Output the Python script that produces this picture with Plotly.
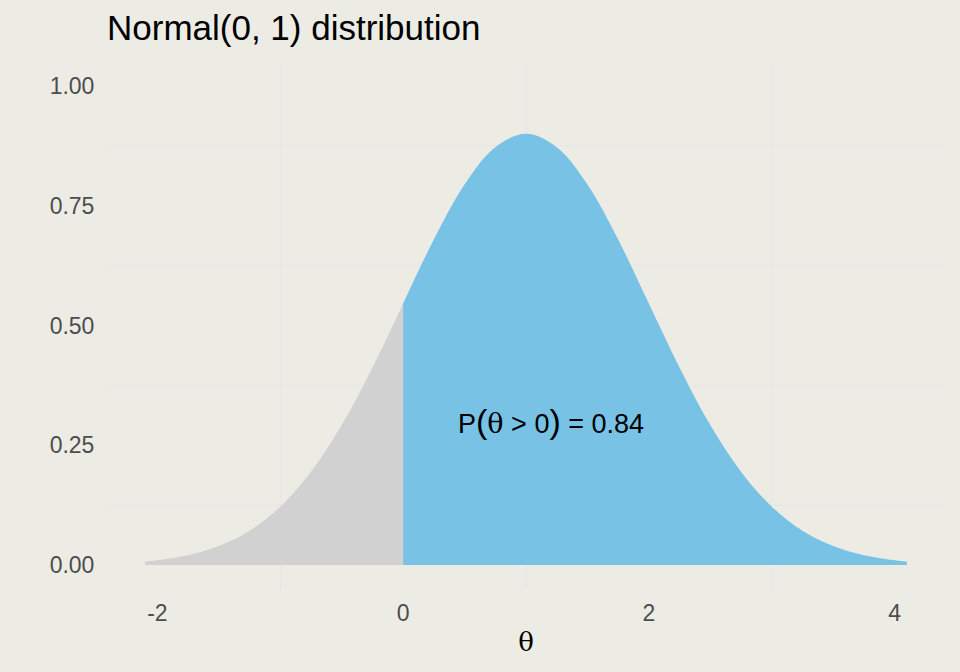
import plotly.graph_objects as go

# density curve (theta, height)
theta_left = [-2.1, -2.0, -1.75, -1.5, -1.25, -1.0, -0.75, -0.5, -0.25, 0.0]
dens_left = [0.0074, 0.0100, 0.0205, 0.0395, 0.0716, 0.1218, 0.1947, 0.2922, 0.4120, 0.5459]

theta_right = [0.0, 0.25, 0.5, 0.75, 1.0, 1.25, 1.5, 1.75, 2.0, 2.25, 2.5, 2.75,
               3.0, 3.25, 3.5, 3.75, 4.0, 4.1]
dens_right = [0.5459, 0.6794, 0.7942, 0.8723, 0.9000, 0.8723, 0.7942, 0.6794, 0.5459,
              0.4120, 0.2922, 0.1947, 0.1218, 0.0716, 0.0395, 0.0205, 0.0100, 0.0074]

x_ticks = [-2, 0, 2, 4]
x_labels = ["-2", "0", "2", "4"]
y_ticks = [0.0, 0.25, 0.5, 0.75, 1.0]
y_labels = ["0.00", "0.25", "0.50", "0.75", "1.00"]

bg = "#ECECE5"
grid = "#E4E4EA"

fig = go.Figure()
fig.add_trace(go.Scatter(
    x=theta_left, y=dens_left, mode="lines", line=dict(width=0, shape="spline"),
    fill="tozeroy", fillcolor="#D1D1D1", hoverinfo="skip",
))
fig.add_trace(go.Scatter(
    x=theta_right, y=dens_right, mode="lines", line=dict(width=0, shape="spline"),
    fill="tozeroy", fillcolor="#78C2E6", hoverinfo="skip",
))

# plotmath-like label: tall parens, serif theta
fig.add_annotation(
    x=1.2, y=0.3, showarrow=False,
    text=("P<span style='font-size:34px'>(</span>"
          "<span style='font-family:DejaVu Serif, serif'>θ</span> > 0"
          "<span style='font-size:34px'>)</span> = 0.84"),
    font=dict(family="Liberation Sans, Arial", size=27, color="black"),
)

fig.update_layout(
    width=960, height=672,
    paper_bgcolor=bg, plot_bgcolor=bg,
    showlegend=False,
    margin=dict(l=107, r=15, t=62, b=83),
    font=dict(family="Liberation Sans, Arial", color="#4D4D4D"),
    title=dict(
        text="Normal(0, 1) distribution",
        x=0, xref="paper", xanchor="left",
        y=0.958, yref="container", yanchor="middle",
        font=dict(size=35, color="black"),
    ),
    xaxis=dict(
        range=[-2.41, 4.41], tickvals=x_ticks, ticktext=x_labels,
        showgrid=False, zeroline=False,
        ticks="outside", ticklen=3, tickcolor=bg, tickfont=dict(size=23),
        minor=dict(tickvals=[-1, 1, 3], showgrid=True, gridcolor=grid, gridwidth=1),
        title=dict(text="θ", font=dict(family="DejaVu Serif, serif", size=26, color="black"),
                   standoff=8),
    ),
    yaxis=dict(
        range=[-0.05, 1.05], tickvals=y_ticks, ticktext=y_labels, showgrid=False,
        zeroline=False, ticks="outside", ticklen=7, tickcolor=bg, tickfont=dict(size=23),
        minor=dict(tickvals=[0.125, 0.375, 0.625, 0.875], showgrid=True,
                   gridcolor=grid, gridwidth=1),
    ),
)

fig.write_html("out.html", config={"displayModeBar": False},
               post_script="document.body.style.margin='0';")
